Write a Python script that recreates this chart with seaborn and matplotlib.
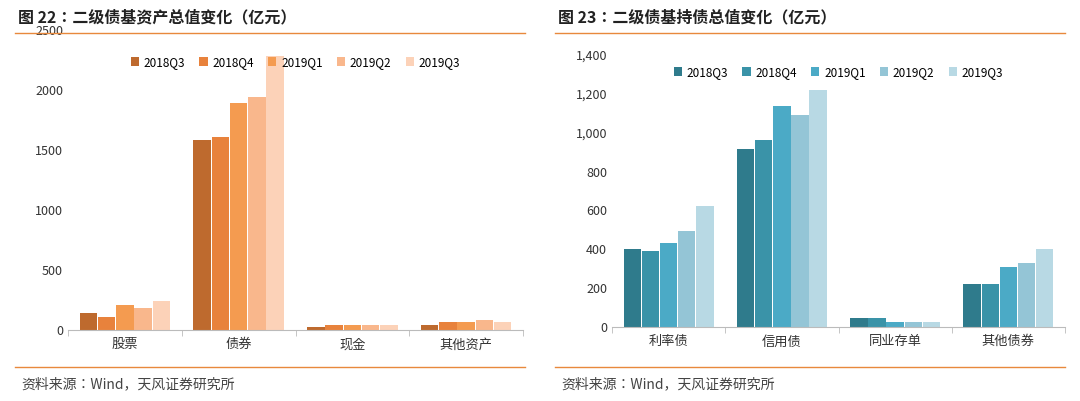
import numpy as np
import pandas as pd
import matplotlib
matplotlib.use("Agg")
import matplotlib.pyplot as plt
import seaborn as sns

plt.rcParams["font.family"] = ["Noto Sans CJK JP", "Noto Sans CJK SC", "DejaVu Sans"]

quarters = ["2018Q3", "2018Q4", "2019Q1", "2019Q2", "2019Q3"]

# 图22 资产总值
asset_cats = ["股票", "债券", "现金", "其他资产"]
asset_vals = {
    "2018Q3": [145, 1580, 25, 45],
    "2018Q4": [110, 1610, 45, 70],
    "2019Q1": [205, 1895, 45, 70],
    "2019Q2": [180, 1940, 45, 80],
    "2019Q3": [240, 2280, 40, 70],
}
asset_colors = ["#BE6A2E", "#E8823C", "#F49B50", "#F9B78C", "#FCD2B8"]

# 图23 持债总值
bond_cats = ["利率债", "信用债", "同业存单", "其他债券"]
bond_vals = {
    "2018Q3": [400, 915, 45, 220],
    "2018Q4": [390, 960, 45, 220],
    "2019Q1": [430, 1135, 25, 310],
    "2019Q2": [495, 1090, 25, 330],
    "2019Q3": [625, 1220, 25, 400],
}
bond_colors = ["#2F7B8C", "#3A93A8", "#4BAAC6", "#94C5D6", "#B8D9E4"]

ORANGE = "#E8893C"


def long_df(cats, vals):
    rows = [(c, q, v) for q in quarters for c, v in zip(cats, vals[q])]
    return pd.DataFrame(rows, columns=["cat", "q", "v"])


def draw(ax, df, cats, colors, ymax, step, fmt, leg_y):
    sns.barplot(data=df, x="cat", y="v", hue="q", order=cats, hue_order=quarters,
                palette=colors, width=0.8, gap=0.04, saturation=1, ax=ax)
    ax.set_ylim(0, ymax)
    ax.set_yticks(np.arange(0, ymax + 1, step))
    ax.set_yticklabels([fmt(t) for t in np.arange(0, ymax + 1, step)])
    ax.set_xlabel("")
    ax.set_ylabel("")
    for s in ["top", "right", "left"]:
        ax.spines[s].set_visible(False)
    ax.spines["bottom"].set_color("#BBBBBB")
    ax.tick_params(axis="y", length=0, labelsize=9, colors="#333333")
    ax.tick_params(axis="x", labelsize=9.5, colors="#333333")
    ax.set_xticks(np.arange(-0.5, len(cats)), minor=True)
    ax.tick_params(axis="x", which="minor", length=4, color="#BBBBBB")
    ax.tick_params(axis="x", which="major", length=0, pad=6)
    ax.legend(loc="upper center", bbox_to_anchor=(0.5, leg_y), ncol=5, frameon=False,
              fontsize=8.5, handlelength=0.7, handleheight=0.7, columnspacing=1.2,
              handletextpad=0.4)


fig = plt.figure(figsize=(10.8, 4.01), dpi=100)

ax1 = fig.add_axes([68 / 1080, 1 - 330 / 401, 455 / 1080, 300 / 401])
draw(ax1, long_df(asset_cats, asset_vals), asset_cats, asset_colors, 2500, 500,
     lambda t: f"{int(t)}", 0.95)

ax2 = fig.add_axes([612 / 1080, 1 - 327 / 401, 453 / 1080, 272 / 401])
draw(ax2, long_df(bond_cats, bond_vals), bond_cats, bond_colors, 1400, 200,
     lambda t: f"{int(t):,}", 1.0)

# titles, rules, sources
for x0, x1, title in [(15, 525, "图 22：二级债基资产总值变化（亿元）"),
                      (555, 1065, "图 23：二级债基持债总值变化（亿元）")]:
    fig.text(x0 / 1080 + 0.003, 1 - 17 / 401, title, fontsize=11.5, fontweight="bold",
             va="center", color="#222222")
    fig.add_artist(plt.Line2D([x0 / 1080, x1 / 1080], [1 - 33 / 401] * 2, color=ORANGE, lw=1))
    fig.add_artist(plt.Line2D([x0 / 1080, x1 / 1080], [1 - 367 / 401] * 2, color=ORANGE, lw=1))
    fig.text(x0 / 1080 + 0.006, 1 - 384 / 401, "资料来源：Wind，天风证券研究所", fontsize=10,
             va="center", color="#444444")

fig.savefig("out.png", dpi=100)
